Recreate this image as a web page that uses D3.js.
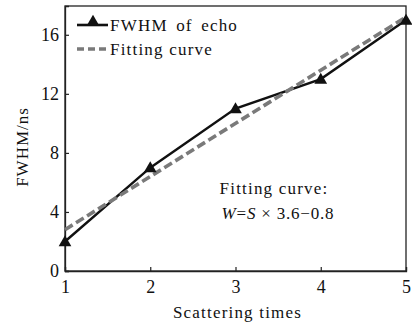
<!DOCTYPE html>
<html>
<head>
<meta charset="utf-8">
<script src="https://cdn.jsdelivr.net/npm/d3@7"></script>
<style>
  body { margin: 0; background: #fff; }
</style>
</head>
<body>
<script>
const scatterTimes = [1, 2, 3, 4, 5];
const fwhmEcho = [2, 7, 11, 13, 17];
const fitSlope = 3.6;
const fitIntercept = -0.8;
const yTicks = [0, 4, 8, 12, 16];

const w = 412, h = 325;
const margin = {left: 65, right: 6, top: 6, bottom: 54};
const serif = "'Liberation Serif', 'Times New Roman', serif";

const svg = d3.select("body").append("svg")
  .attr("width", w)
  .attr("height", h);

const x = d3.scaleLinear().domain([1, 5]).range([margin.left, w - margin.right]);
const y = d3.scaleLinear().domain([0, 17.95]).range([h - margin.bottom, margin.top]);

// frame
svg.append("rect")
  .attr("x", margin.left)
  .attr("y", margin.top)
  .attr("width", w - margin.right - margin.left)
  .attr("height", h - margin.bottom - margin.top)
  .attr("fill", "none")
  .attr("stroke", "#222")
  .attr("stroke-width", 1.3);

const xAxis = d3.axisBottom(x).tickValues(scatterTimes).tickSize(-4).tickPadding(9).tickFormat(d3.format("d"));
const yAxis = d3.axisLeft(y).tickValues(yTicks).tickSize(-4).tickPadding(6);

const gx = svg.append("g")
  .attr("transform", "translate(0," + (h - margin.bottom) + ")")
  .call(xAxis);
const gy = svg.append("g")
  .attr("transform", "translate(" + margin.left + ",0)")
  .call(yAxis);

[gx, gy].forEach(g => {
  g.attr("font-family", serif).attr("font-size", 18);
  g.select(".domain").attr("stroke", "#222").attr("stroke-width", 1.3);
  g.selectAll(".tick line").attr("stroke", "#222").attr("stroke-width", 1.2);
  g.selectAll(".tick text")
    .style("font-family", serif)
    .style("font-size", "18px")
    .attr("fill", "#111");
});

function label(sel) {
  return sel.style("font-family", serif).style("font-size", "17px").attr("fill", "#111");
}

// axis titles
label(svg.append("text"))
  .attr("x", (margin.left + w - margin.right) / 2 + 2)
  .attr("y", 318)
  .attr("text-anchor", "middle")
  .style("letter-spacing", "1.2px")
  .text("Scattering times");

label(svg.append("text"))
  .attr("transform", "translate(28," + 147 + ") rotate(-90)")
  .attr("text-anchor", "middle")
  .style("letter-spacing", "1px")
  .text("FWHM/ns");

// fitting curve
const fitData = scatterTimes.map(s => ({s: s, v: s * fitSlope + fitIntercept}));
const fitLine = d3.line().x(d => x(d.s)).y(d => y(d.v));
const dataLine = d3.line().x((d, i) => x(scatterTimes[i])).y(d => y(d));

svg.append("path")
  .datum(fwhmEcho)
  .attr("d", dataLine)
  .attr("fill", "none")
  .attr("stroke", "#111")
  .attr("stroke-width", 2.4);

svg.append("path")
  .datum([fitData[0], fitData[fitData.length - 1]])
  .attr("d", fitLine)
  .attr("fill", "none")
  .attr("stroke", "#7a7a7a")
  .attr("stroke-width", 3.6)
  .attr("stroke-dasharray", "9,4");

const tri = d3.symbol().type(d3.symbolTriangle).size(70);
svg.append("g").selectAll("path")
  .data(fwhmEcho)
  .enter()
  .append("path")
  .attr("d", tri)
  .attr("transform", (d, i) => "translate(" + x(scatterTimes[i]) + "," + (y(d) + 1) + ")")
  .attr("fill", "#111");

// legend
const legend = svg.append("g").attr("transform", "translate(77,0)");
legend.append("line")
  .attr("x1", 0).attr("x2", 31).attr("y1", 25).attr("y2", 25)
  .attr("stroke", "#111").attr("stroke-width", 2.6);
legend.append("path")
  .attr("d", tri)
  .attr("transform", "translate(16,22)")
  .attr("fill", "#111");
label(legend.append("text"))
  .attr("x", 33).attr("y", 31)
  .style("letter-spacing", "1.2px")
  .style("word-spacing", "3px")
  .text("FWHM of echo");
legend.append("line")
  .attr("x1", 0).attr("x2", 31).attr("y1", 49).attr("y2", 49)
  .attr("stroke", "#7a7a7a").attr("stroke-width", 3.6)
  .attr("stroke-dasharray", "7,4");
label(legend.append("text"))
  .attr("x", 33).attr("y", 55)
  .style("letter-spacing", "1.2px")
  .text("Fitting curve");

// annotation
label(svg.append("text"))
  .attr("x", 274).attr("y", 194)
  .attr("text-anchor", "middle")
  .style("letter-spacing", "1.2px")
  .text("Fitting curve:");

const eq = label(svg.append("text"))
  .attr("x", 278).attr("y", 219)
  .attr("text-anchor", "middle")
  .style("letter-spacing", "0.8px");
eq.append("tspan").style("font-style", "italic").text("W");
eq.append("tspan").text("=");
eq.append("tspan").style("font-style", "italic").text("S");
eq.append("tspan").text(" \u00d7 " + fitSlope + "\u2212" + Math.abs(fitIntercept));
</script>
</body>
</html>
